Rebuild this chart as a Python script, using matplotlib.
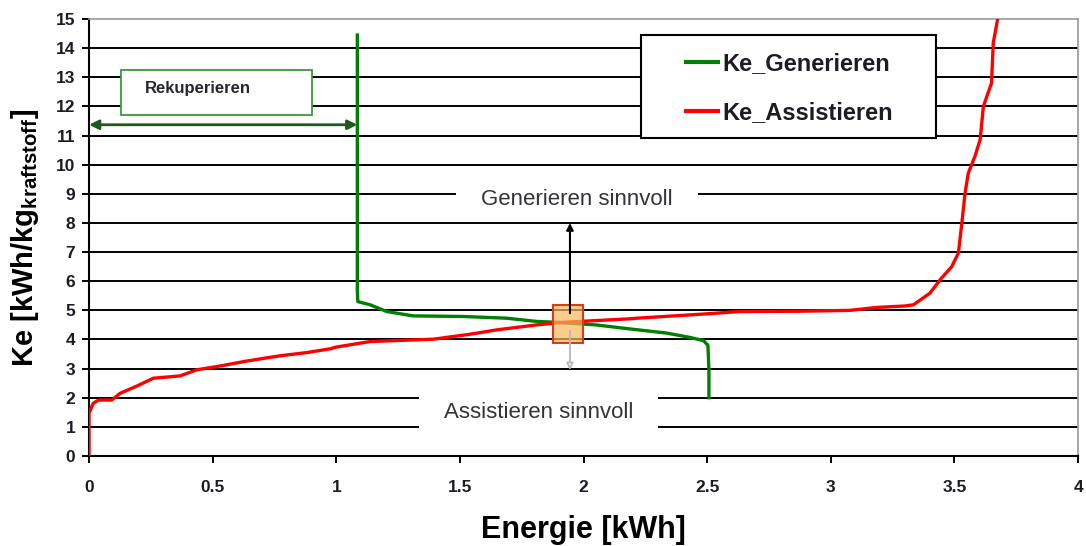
import matplotlib
matplotlib.use("Agg")
import matplotlib.pyplot as plt
from matplotlib.patches import Rectangle
from matplotlib.lines import Line2D

plt.rcParams['font.family'] = ['Liberation Sans', 'DejaVu Sans']
plt.rcParams['mathtext.fontset'] = 'custom'
plt.rcParams['mathtext.rm'] = 'Liberation Sans'
plt.rcParams['mathtext.bf'] = 'Liberation Sans:bold'

# Ke-Kennlinien (Energie in kWh, Ke in kWh/kg Kraftstoff)
gen_x = [1.085, 1.085, 1.087, 1.137, 1.204, 1.31, 1.51, 1.69, 1.81, 1.89, 2.05,
         2.16, 2.20, 2.336, 2.431, 2.485, 2.503, 2.507, 2.507]
gen_y = [14.45, 5.70, 5.30, 5.19, 4.96, 4.81, 4.79, 4.73, 4.62, 4.59, 4.50,
         4.39, 4.35, 4.22, 4.07, 3.96, 3.80, 2.96, 2.0]

ass_x = [0.0, 0.0, 0.017, 0.038, 0.092, 0.125, 0.193, 0.26, 0.368, 0.436, 0.53,
         0.638, 0.772, 0.88, 0.975, 1.0, 1.137, 1.393, 1.541, 1.649, 1.81, 1.918,
         2.053, 2.188, 2.215, 2.498, 2.633, 2.876, 3.078, 3.186, 3.30, 3.334,
         3.401, 3.442, 3.489, 3.516, 3.53, 3.543, 3.556, 3.583, 3.604, 3.617,
         3.65, 3.657, 3.676]
ass_y = [0.0, 1.47, 1.81, 1.92, 1.92, 2.15, 2.40, 2.67, 2.75, 2.96, 3.09,
         3.26, 3.44, 3.55, 3.68, 3.74, 3.93, 4.01, 4.18, 4.33, 4.50, 4.59,
         4.65, 4.71, 4.73, 4.88, 4.96, 4.97, 5.00, 5.10, 5.15, 5.19,
         5.59, 6.05, 6.50, 6.97, 8.00, 9.03, 9.71, 10.29, 10.86, 12.0,
         12.8, 14.18, 15.05]

x_ticks = [0, 0.5, 1, 1.5, 2, 2.5, 3, 3.5, 4]
x_ticklabels = ['0', '0.5', '1', '1.5', '2', '2.5', '3', '3.5', '4']
y_ticks = list(range(16))

# Schnittpunkt der Kennlinien
cross_x = 1.937
cross_y = 4.52

fig = plt.figure(figsize=(10.86, 5.46), dpi=100)
ax = fig.add_axes([0.082, 0.1648, 0.9107, 0.8004])

ax.set_xlim(0, 4)
ax.set_ylim(0, 15)
ax.set_xticks(x_ticks)
ax.set_xticklabels(x_ticklabels)
ax.set_yticks(y_ticks)

ax.grid(axis='y', color='black', lw=1.4, zorder=1)
ax.get_ygridlines()[-1].set_visible(False)
ax.set_axisbelow(True)

for s in ['top', 'right']:
    ax.spines[s].set_color('#9a9a9a')
    ax.spines[s].set_linewidth(1.2)
for s in ['left', 'bottom']:
    ax.spines[s].set_color('black')
    ax.spines[s].set_linewidth(1.5)

ax.tick_params(axis='x', length=5, width=1.4, pad=12, labelsize=12.5,
               labelcolor='#1c1c28')
ax.tick_params(axis='y', length=5, width=1.4, pad=5, labelsize=12.5,
               labelcolor='#1c1c28')
for lab in ax.get_xticklabels() + ax.get_yticklabels():
    lab.set_fontweight('bold')

# Kurven
ax.plot(gen_x, gen_y, color='#008000', lw=2.4, zorder=3)
ax.plot(ass_x, ass_y, color='#ff0000', lw=2.4, zorder=3)

# Rekuperieren
ax.add_patch(Rectangle((0.128, 11.69), 0.772, 1.55, fc='white', ec='#3a9a3a',
                       lw=1.3, zorder=4))
ax.text(0.44, 12.63, 'Rekuperieren', fontsize=12, fontweight='bold',
        color='#262630', ha='center', va='center', zorder=5)
ax.annotate('', xy=(0.0, 11.37), xytext=(1.085, 11.37),
            arrowprops=dict(arrowstyle='<|-|>', color='#1e5a1e', lw=2,
                            mutation_scale=14, shrinkA=0, shrinkB=0),
            zorder=5)

# Bereichsbeschriftungen
ax.add_patch(Rectangle((1.484, 8.28), 0.979, 0.96, fc='white', ec='none',
                       zorder=2))
ax.text(1.974, 8.79, 'Generieren sinnvoll', fontsize=16, color='#333338',
        ha='center', va='center', zorder=5)
ax.add_patch(Rectangle((1.335, 0.85), 0.965, 1.3, fc='white', ec='none',
                       zorder=2))
ax.text(1.818, 1.51, 'Assistieren sinnvoll', fontsize=16, color='#333338',
        ha='center', va='center', zorder=5)

# Markierung am Schnittpunkt mit Pfeilen
ax.add_patch(Rectangle((cross_x - 0.059, cross_y - 0.65), 0.118, 1.31,
                       fc=(0.98, 0.72, 0.36, 0.7), ec='#d0401a', lw=1.5,
                       zorder=4))
ax.annotate('', xy=(cross_x + 0.008, 8.0), xytext=(cross_x + 0.008, 4.9),
            arrowprops=dict(arrowstyle='-|>', color='black', lw=1.5,
                            mutation_scale=10, shrinkA=0, shrinkB=0),
            zorder=5)
ax.annotate('', xy=(cross_x + 0.008, 2.95), xytext=(cross_x + 0.008, 4.3),
            arrowprops=dict(arrowstyle='-|>', ec='#b8b8b8', fc='white', lw=1.3,
                            mutation_scale=10, shrinkA=0, shrinkB=0),
            zorder=5)

# Legende mit eigenem Rahmen
ax.add_patch(Rectangle((0.558, 0.728), 0.298, 0.235, transform=ax.transAxes,
                       fc='white', ec='black', lw=1.5, zorder=8))
handles = [Line2D([], [], color='#008000', lw=3),
           Line2D([], [], color='#ff0000', lw=3)]
leg = ax.legend(handles, ['Ke_Generieren', 'Ke_Assistieren'], loc='center',
                bbox_to_anchor=(0.708, 0.841), frameon=False,
                prop={'size': 17, 'weight': 'bold'}, handlelength=1.36,
                handletextpad=0.2, labelspacing=1.1)
leg.set_zorder(9)
for t in leg.get_texts():
    t.set_color('#1c1c28')

ax.set_xlabel('Energie [kWh]', fontsize=22, fontweight='bold', va='center')
ax.xaxis.set_label_coords(0.5, -0.169)
ax.set_ylabel(r'Ke [kWh/kg$_{\mathbf{kraftstoff}}$]', fontsize=21,
              fontweight='bold', va='center')
ax.yaxis.set_label_coords(-0.065, 0.5)

fig.savefig('out.png', dpi=100)
